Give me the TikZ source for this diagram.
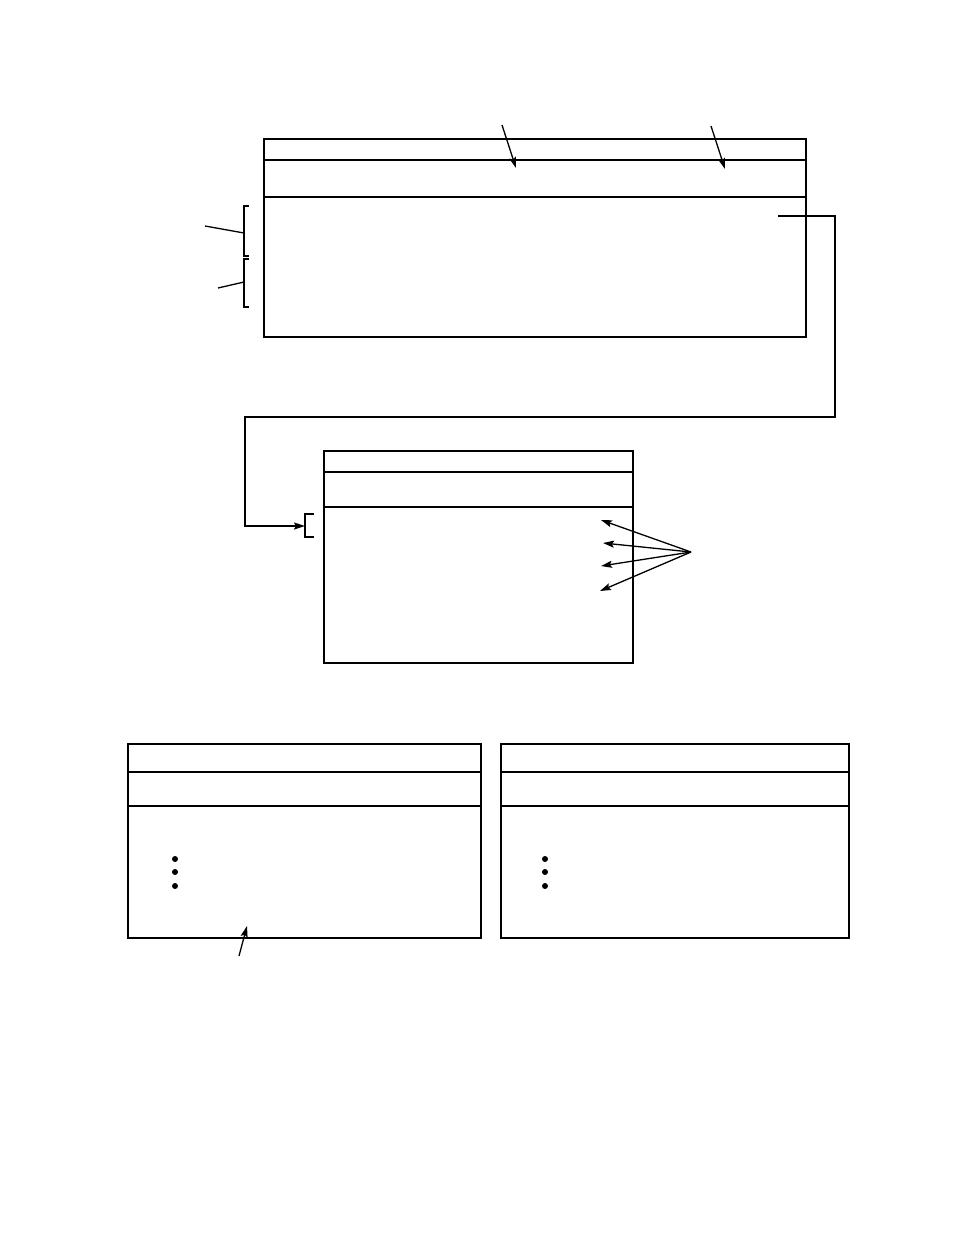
\documentclass[tikz,border=0pt]{standalone}
\usetikzlibrary{arrows.meta}
\begin{document}
\begin{tikzpicture}[x=1pt,y=-1pt,
  frame/.style={line width=1.6pt},
  thin rule/.style={line width=1.1pt},
  thick rule/.style={line width=2.2pt},
  pointer/.style={line width=1.3pt,-{Stealth[length=11pt,width=7pt,inset=2pt]}},
  leader/.style={line width=1.3pt},
  brk/.style={line width=1.3pt},
  dot/.style={fill=black}]
\fill[white] (0,0) rectangle (954,1235);
\useasboundingbox (0,0) rectangle (954,1235);
% top box
\draw[frame] (264,139) rectangle (806,337);
\draw[thin rule] (264,160) -- (806,160);
\draw[thick rule] (264,197) -- (806,197);
\coordinate (t1s) at (502,125); \coordinate (t1e) at (516,168);
\coordinate (t2s) at (711,126); \coordinate (t2e) at (725,169);
\draw[pointer] (t1s) -- (t1e);
\draw[pointer] (t2s) -- (t2e);
% left brackets
\draw[brk] (249,206) -- (244,206) -- (244,256) -- (249,256);
\draw[brk] (249,259) -- (244,259) -- (244,307) -- (249,307);
\coordinate (b1) at (244,233); \coordinate (b2) at (244,282);
\draw[leader] (205,226) -- (b1);
\draw[leader] (218,288) -- (b2);
% connector
\coordinate (cs) at (778,216);
\coordinate (ce) at (305,526);
\draw[line width=1.6pt,-{Stealth[length=11pt,width=7pt,inset=2pt]}] (cs) -- (835,216) -- (835,417) -- (245,417) -- (245,526) -- (ce);
\draw[brk] (314,514) -- (305,514) -- (305,537) -- (314,537);
% middle box
\draw[frame] (324,451) rectangle (633,663);
\draw[thin rule] (324,472) -- (633,472);
\draw[thin rule] (324,507) -- (633,507);
\coordinate (hub) at (691,552);
\foreach \y/\x in {520/601,543/603,566/601,591/600}{
  \draw[pointer] (hub) -- (\x,\y);
}
% bottom left box
\draw[frame] (128,744) rectangle (481,938);
\draw[thick rule] (128,772) -- (481,772);
\draw[thin rule] (128,806) -- (481,806);
\foreach \y in {859,872,886}{\fill[dot] (175,\y) circle (3pt);}
\draw[pointer] (239,956) -- (247,926);
% bottom right box
\draw[frame] (501,744) rectangle (849,938);
\draw[thick rule] (501,772) -- (849,772);
\draw[thin rule] (501,806) -- (849,806);
\foreach \y in {859,872,886}{\fill[dot] (545,\y) circle (3pt);}
\end{tikzpicture}
\end{document}
